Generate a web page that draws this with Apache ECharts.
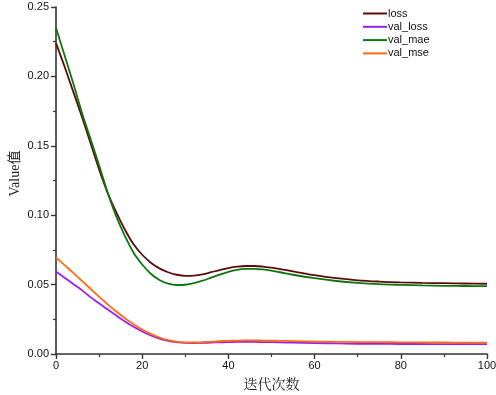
<!DOCTYPE html>
<html>
<head>
<meta charset="utf-8">
<script src="https://cdn.jsdelivr.net/npm/echarts@6/dist/echarts.min.js"></script>
<style>html,body{margin:0;padding:0;background:#fff;}#c{width:496px;height:395px;}</style>
</head>
<body>
<div id="c"></div>
<script>
const epochs = [0,2,4,6,8,10,12,14,16,18,20,22,24,26,28,30,32,34,36,38,40,42,44,46,48,50,52,55,60,65,70,75,80,85,90,95,100];
const loss = [0.224,0.207,0.189,0.171,0.152,0.133,0.116,0.102,0.0895,0.079,0.0715,0.0658,0.0617,0.0589,0.0571,0.0563,0.0565,0.0574,0.0589,0.0605,0.0619,0.0629,0.0634,0.0634,0.063,0.0622,0.0612,0.0596,0.0568,0.0546,0.0531,0.0522,0.0516,0.0512,0.051,0.0508,0.0506];
const valLoss = [0.0595,0.055,0.0505,0.046,0.041,0.0365,0.032,0.0277,0.0235,0.0196,0.0162,0.0133,0.011,0.0094,0.0085,0.008,0.0079,0.008,0.0082,0.0084,0.0085,0.0087,0.0087,0.0087,0.0086,0.0085,0.0084,0.0082,0.0079,0.0076,0.0074,0.0073,0.0072,0.0072,0.0071,0.0071,0.0071];
const valMae = [0.235,0.215,0.195,0.174,0.155,0.136,0.116,0.099,0.085,0.073,0.0645,0.0578,0.0533,0.0507,0.0497,0.0499,0.051,0.0528,0.055,0.0572,0.0592,0.0606,0.0613,0.0614,0.0609,0.06,0.0589,0.0571,0.0546,0.0526,0.0512,0.0503,0.0498,0.0494,0.0491,0.049,0.0489];
const valMse = [0.0695,0.064,0.0585,0.0528,0.047,0.0413,0.0358,0.0306,0.0258,0.0215,0.0177,0.0145,0.0119,0.01,0.0089,0.0084,0.0083,0.0085,0.0088,0.0092,0.0095,0.0097,0.0098,0.0098,0.0097,0.0096,0.0095,0.0093,0.009,0.0088,0.0086,0.0085,0.0084,0.0083,0.0083,0.0082,0.0082];
const seriesNames = ['loss','val_loss','val_mae','val_mse'];
const xTicks = [0,20,40,60,80,100];
const yTicks = [0,0.05,0.10,0.15,0.20,0.25];

const pair = arr => epochs.map((e,i)=>[e,arr[i]]);
const colors = ['#5a0c0c','#9a1ef0','#0d760d','#ff6a10'];
const datas = [loss, valLoss, valMae, valMse];

const axisCommon = {
  axisLine:{show:true, lineStyle:{color:'#333', width:1.6}},
  axisTick:{show:true, inside:false, length:5, lineStyle:{color:'#333', width:1.4}},
  minorTick:{show:true, splitNumber:2, length:3, lineStyle:{color:'#333', width:1.2}},
  splitLine:{show:false},
  axisLabel:{color:'#111', fontFamily:'Liberation Sans, Arial', fontSize:11}
};

const chart = echarts.init(document.getElementById('c'), null, {renderer:'canvas'});
chart.setOption({
  backgroundColor:'#fff',
  animation:false,
  grid:{left:56, right:9, top:7, bottom:41, containLabel:false, outerBoundsMode:'none'},
  legend:{
    orient:'vertical', left:363, top:8, padding:0,
    itemWidth:24, itemHeight:10, itemGap:2.3,
    icon:'path://M0,4L24,4L24,6L0,6Z',
    textStyle:{fontFamily:'Liberation Sans, Arial', fontSize:11, color:'#111', padding:[0,0,0,-4]},
    data:seriesNames
  },
  xAxis:Object.assign({
    type:'value', min:xTicks[0], max:xTicks[xTicks.length-1], interval:20,
    name:'迭代次数', nameLocation:'middle', nameGap:23, nameMoveOverlap:false,
    nameTextStyle:{fontFamily:'Noto Serif CJK SC, Noto Sans CJK SC', fontSize:14, color:'#222'}
  }, axisCommon, {axisLabel:Object.assign({}, axisCommon.axisLabel, {margin:6})}),
  yAxis:Object.assign({
    type:'value', min:yTicks[0], max:yTicks[yTicks.length-1], interval:0.05,
    name:'Value值', nameLocation:'middle', nameGap:34, nameRotate:90, nameMoveOverlap:false,
    nameTextStyle:{fontFamily:'Liberation Serif, Noto Sans CJK SC', fontSize:14, color:'#222', padding:[0,0,0,14]}
  }, axisCommon, {axisLabel:Object.assign({}, axisCommon.axisLabel, {margin:7, formatter:v=>v.toFixed(2)})}),
  series: seriesNames.map((n,i)=>({
    name:n, type:'line', smooth:0.35, symbol:'none',
    data:pair(datas[i]),
    lineStyle:{color:colors[i], width:1.8},
    itemStyle:{color:colors[i]}
  }))
});
</script>
</body>
</html>
